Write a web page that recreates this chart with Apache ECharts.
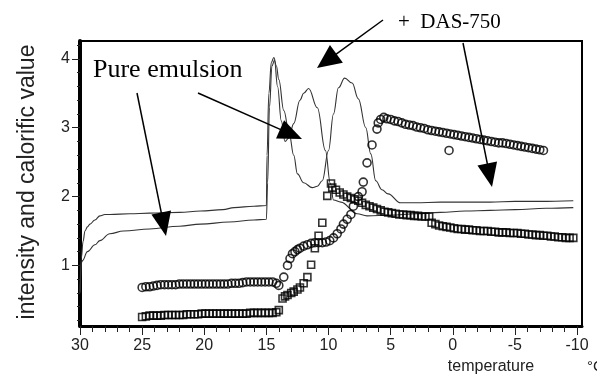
<!DOCTYPE html>
<html>
<head>
<meta charset="utf-8">
<script src="https://cdn.jsdelivr.net/npm/echarts@6/dist/echarts.min.js"></script>
<style>
html,body{margin:0;padding:0;background:#fff;}
#chart{width:597px;height:374px;}
</style>
</head>
<body>
<div id="chart"></div>
<script>
// ---- Data ----
// Curve ending upper on the right (peaks at ~14.4 and ~8.7)
var curveUpperT = [30.0, 29.9, 29.75, 29.6, 29.4, 29.2, 28.8, 28.4, 28.0, 27.6, 26.0, 24.4, 22.0, 20.3, 18.5, 17.6, 16.0, 15.0, 14.95, 14.8, 14.6, 14.4, 14.2, 14.0, 13.6, 13.15, 12.8, 12.5, 12.0, 11.3, 10.9, 10.5, 10.0, 9.6, 9.2, 8.7, 8.1, 7.6, 7.0, 6.6, 6.2, 5.7, 5.2, 4.2, 3.0, 1.0, -1.0, -3.0, -5.0, -7.0, -9.7];
var curveUpperV = [0.62, 1.10, 1.35, 1.50, 1.56, 1.60, 1.66, 1.72, 1.74, 1.74, 1.75, 1.76, 1.77, 1.79, 1.81, 1.84, 1.86, 1.87, 2.6, 3.5, 3.95, 4.02, 3.9, 3.7, 3.25, 2.9, 2.6, 2.33, 2.2, 2.13, 2.15, 2.23, 2.67, 3.2, 3.58, 3.72, 3.65, 3.42, 3.0, 2.62, 2.23, 2.1, 2.04, 1.91, 1.91, 1.92, 1.92, 1.92, 1.93, 1.93, 1.94];
// Curve ending lower on the right (peaks at ~14.35 and ~11.6)
var curveLowerT = [30.0, 29.85, 29.8, 29.4, 28.8, 28.4, 27.6, 26.5, 24.4, 22.0, 20.3, 18.0, 16.0, 15.0, 14.9, 14.75, 14.55, 14.35, 14.1, 13.8, 13.5, 13.2, 12.8, 12.3, 12.0, 11.6, 10.9, 10.25, 9.85, 9.6, 9.0, 7.7, 6.9, 5.0, 3.0, 1.0, -1.0, -3.0, -5.0, -7.5, -9.7];
var curveLowerV = [0.60, 1.05, 1.07, 1.20, 1.30, 1.36, 1.46, 1.50, 1.53, 1.57, 1.60, 1.63, 1.66, 1.67, 2.2, 3.3, 3.9, 3.98, 3.6, 3.1, 2.8, 2.85, 3.06, 3.4, 3.5, 3.57, 3.29, 2.67, 2.19, 1.95, 1.92, 1.75, 1.72, 1.73, 1.75, 1.77, 1.79, 1.80, 1.81, 1.83, 1.84];
// Open circles
var circleT = [25.0, 24.7, 24.4, 24.1, 23.8, 23.5, 23.2, 22.9, 22.6, 22.3, 22.0, 21.7, 21.4, 21.1, 20.8, 20.5, 20.2, 19.9, 19.6, 19.3, 19.0, 18.7, 18.4, 18.1, 17.8, 17.5, 17.2, 16.9, 16.6, 16.3, 16.0, 15.7, 15.4, 15.1, 14.8, 14.5, 14.2, 14.0, 13.6, 13.3, 13.1, 12.9, 12.7, 12.5, 12.3, 12.0, 11.7, 11.4, 11.1, 10.8, 10.5, 10.2, 9.9, 9.6, 9.3, 9.0, 8.8, 8.5, 8.2, 8.0, 7.6, 7.3, 7.2, 6.9, 6.5, 6.1, 6.0, 5.8, 5.55, 5.3, 5.0, 4.7, 4.4, 4.1, 3.8, 3.5, 3.2, 2.9, 2.6, 2.3, 2.0, 1.7, 1.4, 1.1, 0.8, 0.5, 0.2, -0.1, -0.4, -0.7, -1.0, -1.3, -1.6, -1.9, -2.2, -2.5, -2.8, -3.1, -3.4, -3.7, -4.0, -4.3, -4.6, -4.9, -5.2, -5.5, -5.8, -6.1, -6.4, -6.7, -7.0, -7.3, 0.3];
var circleV = [0.68, 0.69, 0.69, 0.70, 0.71, 0.72, 0.72, 0.72, 0.72, 0.72, 0.73, 0.73, 0.73, 0.73, 0.73, 0.73, 0.73, 0.73, 0.73, 0.73, 0.73, 0.73, 0.73, 0.73, 0.74, 0.74, 0.74, 0.75, 0.76, 0.76, 0.76, 0.76, 0.76, 0.76, 0.76, 0.76, 0.74, 0.71, 0.83, 1.00, 1.10, 1.17, 1.20, 1.23, 1.25, 1.28, 1.30, 1.32, 1.33, 1.33, 1.33, 1.34, 1.36, 1.40, 1.46, 1.53, 1.60, 1.67, 1.74, 1.86, 2.00, 2.07, 2.21, 2.49, 2.75, 2.98, 3.07, 3.12, 3.15, 3.13, 3.12, 3.10, 3.09, 3.07, 3.05, 3.04, 3.03, 3.01, 3.00, 2.99, 2.97, 2.96, 2.95, 2.94, 2.93, 2.92, 2.91, 2.90, 2.89, 2.88, 2.87, 2.86, 2.85, 2.84, 2.83, 2.82, 2.81, 2.80, 2.79, 2.78, 2.78, 2.77, 2.76, 2.75, 2.74, 2.73, 2.72, 2.71, 2.70, 2.69, 2.68, 2.67, 2.67];
// Open squares
var squareT = [25.0, 24.7, 24.4, 24.1, 23.8, 23.5, 23.2, 22.9, 22.6, 22.3, 22.0, 21.7, 21.4, 21.1, 20.8, 20.5, 20.2, 19.9, 19.6, 19.3, 19.0, 18.7, 18.4, 18.1, 17.8, 17.5, 17.2, 16.9, 16.6, 16.3, 16.0, 15.7, 15.4, 15.1, 14.8, 14.5, 14.2, 14.0, 13.7, 13.5, 13.3, 13.0, 12.8, 12.5, 12.3, 12.0, 11.7, 11.4, 11.1, 10.8, 10.5, 10.1, 9.8, 9.7, 9.4, 9.1, 8.8, 8.5, 8.2, 7.9, 7.6, 7.3, 7.0, 6.7, 6.4, 6.1, 5.8, 5.5, 5.2, 4.9, 4.6, 4.3, 4.0, 3.7, 3.4, 3.1, 2.8, 2.5, 2.2, 1.9, 1.7, 1.4, 1.1, 0.8, 0.5, 0.2, -0.1, -0.4, -0.7, -1.0, -1.3, -1.6, -1.9, -2.2, -2.5, -2.8, -3.1, -3.4, -3.7, -4.0, -4.3, -4.6, -4.9, -5.2, -5.5, -5.8, -6.1, -6.4, -6.7, -7.0, -7.3, -7.6, -7.9, -8.2, -8.5, -8.8, -9.1, -9.4, -9.7];
var squareV = [0.25, 0.26, 0.27, 0.27, 0.27, 0.27, 0.28, 0.28, 0.28, 0.28, 0.28, 0.28, 0.29, 0.29, 0.29, 0.29, 0.30, 0.30, 0.30, 0.30, 0.30, 0.30, 0.30, 0.30, 0.30, 0.30, 0.30, 0.30, 0.30, 0.31, 0.31, 0.31, 0.31, 0.31, 0.31, 0.31, 0.32, 0.35, 0.52, 0.55, 0.57, 0.60, 0.62, 0.65, 0.68, 0.74, 0.83, 1.01, 1.25, 1.43, 1.62, 2.01, 2.19, 2.13, 2.10, 2.06, 2.03, 2.00, 1.98, 1.96, 1.94, 1.91, 1.88, 1.86, 1.84, 1.82, 1.80, 1.78, 1.77, 1.76, 1.75, 1.74, 1.74, 1.73, 1.73, 1.72, 1.72, 1.71, 1.71, 1.71, 1.62, 1.60, 1.58, 1.57, 1.56, 1.55, 1.54, 1.53, 1.53, 1.52, 1.52, 1.51, 1.51, 1.50, 1.50, 1.50, 1.49, 1.49, 1.48, 1.48, 1.48, 1.47, 1.47, 1.47, 1.46, 1.46, 1.45, 1.45, 1.44, 1.44, 1.43, 1.43, 1.42, 1.42, 1.41, 1.41, 1.40, 1.40, 1.40];
// Tick labels / positions
var xMajorTicks = [30, 25, 20, 15, 10, 5, 0, -5, -10];
var xMinorTicks = [30, 29, 28, 27, 26, 25, 24, 23, 22, 21, 20, 19, 18, 17, 16, 15, 14, 13, 12, 11, 10, 9, 8, 7, 6, 5, 4, 3, 2, 1, 0, -1, -2, -3, -4, -5, -6, -7, -8, -9, -10];
var yMajorTicks = [1, 2, 3, 4];
var yMinorTicks = [0.2, 0.4, 0.6, 0.8, 1.0, 1.2, 1.4, 1.6, 1.8, 2.0, 2.2, 2.4, 2.6, 2.8, 3.0, 3.2, 3.4, 3.6, 3.8, 4.0, 4.2];

function zip(t, v) { return t.map(function (x, i) { return [x, v[i]]; }); }

function arrow(x1, y1, x2, y2, len, w) {
  var dx = x2 - x1, dy = y2 - y1, d = Math.sqrt(dx * dx + dy * dy);
  var ux = dx / d, uy = dy / d, px = -uy, py = ux;
  var bx = x2 - ux * len, by = y2 - uy * len;
  return [
    { type: 'line', z: 100, shape: { x1: x1, y1: y1, x2: bx + ux * 2, y2: by + uy * 2 }, style: { stroke: '#000', lineWidth: 1.5 } },
    { type: 'polygon', z: 100, shape: { points: [[x2, y2], [bx + px * w / 2, by + py * w / 2], [bx - px * w / 2, by - py * w / 2]] }, style: { fill: '#000' } }
  ];
}

var chart = echarts.init(document.getElementById('chart'), null, { renderer: 'canvas' });
var FONT = '"Liberation Sans", Arial, sans-serif';
var SERIF = '"Liberation Serif", "Times New Roman", serif';

var graphics = [].concat(
  arrow(137, 93, 166, 236, 24, 20),
  arrow(198, 93, 302, 139, 24, 20),
  arrow(383, 20, 317, 68, 24, 22),
  arrow(463, 43, 492, 187, 24, 20),
  [
    { type: 'text', z: 100, x: 93, y: 70, style: { text: 'Pure emulsion', font: '26px ' + SERIF, fill: '#000', align: 'left', verticalAlign: 'middle' } },
    { type: 'text', z: 100, x: 398, y: 22, style: { text: '+  DAS-750', font: '21px ' + SERIF, fill: '#000', align: 'left', verticalAlign: 'middle' } },
    { type: 'text', z: 100, x: 28, y: 182, rotation: Math.PI / 2, style: { text: 'intensity and calorific value', font: '23px ' + FONT, fill: '#222', align: 'center', verticalAlign: 'middle' } },
    { type: 'text', z: 100, x: 491, y: 367, style: { text: 'temperature', font: '16px ' + FONT, fill: '#222', align: 'center', verticalAlign: 'middle' } },
    { type: 'text', z: 100, x: 587, y: 367, style: { text: '°C', font: '15px ' + FONT, fill: '#222', align: 'left', verticalAlign: 'middle' } }
  ]
);

var xBase = { type: 'value', inverse: true, min: -10.4, max: 30, position: 'bottom', offset: 0, splitLine: { show: false } };
var yBase = { type: 'value', min: 0.12, max: 4.26, position: 'left', offset: 0, splitLine: { show: false } };

chart.setOption({
  animation: false,
  backgroundColor: '#fff',
  grid: { left: 80, right: 15, top: 41, bottom: 48, show: true, borderColor: '#000', borderWidth: 2, backgroundColor: 'transparent' },
  xAxis: [
    Object.assign({}, xBase, {
      axisLine: { show: true, onZero: false, lineStyle: { color: '#000', width: 3 } },
      axisTick: { show: true, length: 9, customValues: xMajorTicks, lineStyle: { color: '#222', width: 1 } },
      axisLabel: { show: true, customValues: xMajorTicks, margin: 12, fontSize: 16, fontFamily: FONT, color: '#222' }
    }),
    Object.assign({}, xBase, {
      axisLine: { show: false, onZero: false },
      axisTick: { show: true, length: 6, customValues: xMinorTicks, lineStyle: { color: '#222', width: 1 } },
      axisLabel: { show: false }
    })
  ],
  yAxis: [
    Object.assign({}, yBase, {
      axisLine: { show: true, onZero: false, lineStyle: { color: '#000', width: 4 } },
      axisTick: { show: true, length: 8, customValues: yMajorTicks, lineStyle: { color: '#222', width: 1 } },
      axisLabel: { show: true, customValues: yMajorTicks, margin: 10, fontSize: 16, fontFamily: FONT, color: '#222' }
    }),
    Object.assign({}, yBase, {
      axisLine: { show: false, onZero: false },
      axisTick: { show: true, length: 3, customValues: yMinorTicks, lineStyle: { color: '#222', width: 1 } },
      axisLabel: { show: false }
    })
  ],
  series: [
    { type: 'line', xAxisIndex: 0, yAxisIndex: 0, data: zip(curveUpperT, curveUpperV), showSymbol: false, smooth: 0.4, smoothMonotone: 'x', lineStyle: { color: '#333', width: 1.1 }, z: 2 },
    { type: 'line', xAxisIndex: 0, yAxisIndex: 0, data: zip(curveLowerT, curveLowerV), showSymbol: false, smooth: 0.4, smoothMonotone: 'x', lineStyle: { color: '#333', width: 1.1 }, z: 2 },
    { type: 'scatter', xAxisIndex: 0, yAxisIndex: 0, data: zip(circleT, circleV), symbol: 'circle', symbolSize: 8, itemStyle: { color: 'rgba(255,255,255,0)', borderColor: '#000', borderWidth: 1.6 }, z: 3 },
    { type: 'scatter', xAxisIndex: 0, yAxisIndex: 0, data: zip(squareT, squareV), symbol: 'rect', symbolSize: 7, itemStyle: { color: 'rgba(255,255,255,0)', borderColor: '#000', borderWidth: 1.6 }, z: 3 }
  ],
  graphic: graphics
});
</script>
</body>
</html>
